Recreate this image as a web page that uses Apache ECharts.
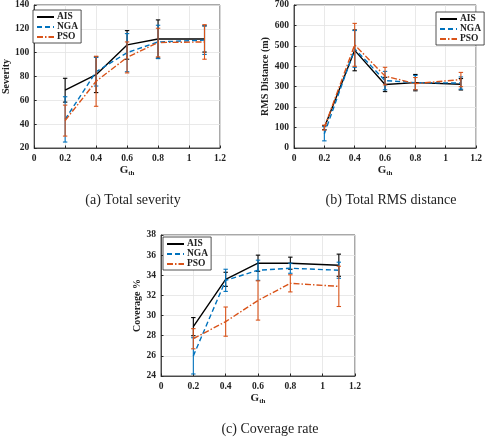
<!DOCTYPE html>
<html><head><meta charset="utf-8">
<script src="https://cdn.jsdelivr.net/npm/echarts@6/dist/echarts.min.js"></script>
<style>html,body{margin:0;padding:0;background:#fff}#c{width:485px;height:444px}</style>
</head><body><div id="c"></div>
<script>
// ---- data ----
const gth = [0.2, 0.4, 0.6, 0.8, 1.1];
const xTicks = [0, 0.2, 0.4, 0.6, 0.8, 1, 1.2];
const methods = ['AIS', 'NGA', 'PSO'];

const severityAIS = [68.5, 81.5, 106.5, 111.5, 111.5];
const severityAISErr = [10, 15, 12, 16, 11];
const severityNGA = [44, 84, 100, 109, 110.5];
const severityNGAErr = [19, 12, 16, 14, 12];
const severityPSO = [43, 76, 96, 108.5, 109];
const severityPSOErr = [13, 21, 13, 12, 14.5];

const rmsAIS = [100, 478, 311, 320, 312];
const rmsAISErr = [10, 100, 35, 40, 28];
const rmsNGA = [70, 485, 330, 320, 318];
const rmsNGAErr = [35, 90, 45, 35, 30];
const rmsPSO = [100, 505, 352, 315, 335];
const rmsPSOErr = [12, 105, 43, 30, 35];

const covAIS = [28.9, 33.6, 35.2, 35.2, 35.0];
const covAISErr = [0.9, 0.7, 0.8, 0.6, 1.1];
const covNGA = [26.0, 33.5, 34.5, 34.7, 34.5];
const covNGAErr = [1.8, 1.1, 1.0, 0.5, 0.8];
const covPSO = [27.7, 29.4, 31.5, 33.2, 32.9];
const covPSOErr = [1.0, 1.45, 1.95, 0.85, 2.0];

const captions = ['(a) Total severity', '(b) Total RMS distance', '(c) Coverage rate'];
const yNames = ['Severity', 'RMS Distance (m)', 'Coverage %'];

// ---- styling ----
const colors = {AIS: '#000000', NGA: '#0072BD', PSO: '#D95319'};
const dash = {AIS: 'solid', NGA: [5, 3], PSO: [6, 2, 1.5, 2]};
const serif = '"Liberation Serif", "Times New Roman", serif';

const panels = [
  {grid: {left: 29, top: 5, width: 191, height: 143}, y: [20, 140, 20],
   vals: [severityAIS, severityNGA, severityPSO], errs: [severityAISErr, severityNGAErr, severityPSOErr],
   legend: {left: 33, top: 10}},
  {grid: {left: 294, top: 5, width: 196, height: 143}, y: [0, 700, 100],
   vals: [rmsAIS, rmsNGA, rmsPSO], errs: [rmsAISErr, rmsNGAErr, rmsPSOErr],
   legend: {left: 436, top: 12}},
  {grid: {left: 161, top: 235, width: 194, height: 141}, y: [24, 38, 2],
   vals: [covAIS, covNGA, covPSO], errs: [covAISErr, covNGAErr, covPSOErr],
   legend: {left: 163, top: 237}}
];

function errRender(params, api) {
  const x = api.value(0), lo = api.value(1), hi = api.value(2);
  const a = api.coord([x, lo]), b = api.coord([x, hi]);
  const c = 2.2;
  const st = {stroke: api.visual('color'), lineWidth: 1.1};
  return {type: 'group', children: [
    {type: 'line', shape: {x1: a[0], y1: a[1], x2: b[0], y2: b[1]}, style: st},
    {type: 'line', shape: {x1: a[0]-c, y1: a[1], x2: a[0]+c, y2: a[1]}, style: st},
    {type: 'line', shape: {x1: b[0]-c, y1: b[1], x2: b[0]+c, y2: b[1]}, style: st}
  ]};
}

const option = {animation: false, backgroundColor: '#fff', grid: [], xAxis: [], yAxis: [], series: [], legend: [], title: []};
const labelFont = {fontFamily: serif, fontWeight: 'bold', fontSize: 9.5, color: '#222'};

panels.forEach((p, i) => {
  option.grid.push(Object.assign({show: true, borderColor: '#262626', borderWidth: 0.8, backgroundColor: 'transparent'}, p.grid));
  option.xAxis.push({type: 'value', gridIndex: i, min: 0, max: 1.2, interval: 0.2,
    axisLine: {show: true, lineStyle: {color: '#262626', width: 0.8}},
    axisTick: {show: true, inside: true, length: 2.5, lineStyle: {color: '#262626'}},
    axisLabel: Object.assign({margin: 6, formatter: v => String(+v.toFixed(1))}, labelFont),
    splitLine: {show: true, lineStyle: {color: '#e3e3e3', width: 0.8}},
    name: 'G{s|th}', nameLocation: 'middle', nameGap: 16,
    nameTextStyle: {fontFamily: serif, fontWeight: 'bold', fontSize: 11, color: '#222',
      rich: {s: {fontFamily: serif, fontWeight: 'bold', fontSize: 7, verticalAlign: 'bottom', padding: [6, 0, 0, 0]}}}
  });
  option.yAxis.push({type: 'value', gridIndex: i, min: p.y[0], max: p.y[1], interval: p.y[2],
    axisLine: {show: true, lineStyle: {color: '#262626', width: 0.8}},
    axisTick: {show: true, inside: true, length: 2.5, lineStyle: {color: '#262626'}},
    axisLabel: Object.assign({margin: 5}, labelFont),
    splitLine: {show: true, lineStyle: {color: '#e3e3e3', width: 0.8}},
    name: yNames[i], nameLocation: 'middle', nameGap: i === 1 ? 19 : (i === 0 ? 21 : 17),
    nameTextStyle: {fontFamily: serif, fontWeight: 'bold', fontSize: 10, color: '#222'}
  });
  methods.forEach((m, k) => {
    option.series.push({type: 'line', name: m, xAxisIndex: i, yAxisIndex: i,
      data: gth.map((x, j) => [x, p.vals[k][j]]), symbol: 'none',
      lineStyle: {color: colors[m], width: 1.4, type: dash[m]}, itemStyle: {color: colors[m]}, z: 3 + k});
    option.series.push({type: 'custom', name: m + '_err', xAxisIndex: i, yAxisIndex: i,
      data: gth.map((x, j) => [x, p.vals[k][j] - p.errs[k][j], p.vals[k][j] + p.errs[k][j]]),
      renderItem: errRender, itemStyle: {color: colors[m]}, z: 3 + k, clip: false});
  });
  option.legend.push(Object.assign({data: methods, orient: 'vertical', show: true,
    backgroundColor: '#fff', borderColor: '#262626', borderWidth: 0.8, borderRadius: 0,
    padding: [2, 3, 1, 3], itemGap: 0, itemWidth: 17, itemHeight: 10,
    itemStyle: {opacity: 0}, inactiveColor: '#ccc',
    textStyle: {fontFamily: serif, fontWeight: 'bold', fontSize: 9.5, color: '#222', padding: [0, 0, 0, -2]}}, p.legend));
});

option.title = [
  {text: captions[0], left: 128, top: 188, textAlign: 'center'},
  {text: captions[1], left: 386, top: 188, textAlign: 'center'},
  {text: captions[2], left: 265, top: 417, textAlign: 'center'}
].map(t => Object.assign(t, {textStyle: {fontFamily: serif, fontWeight: 'normal', fontSize: 14, color: '#222'}}));

const chart = echarts.init(document.getElementById('c'), null, {renderer: 'canvas'});
chart.setOption(option);
</script>
</body></html>
